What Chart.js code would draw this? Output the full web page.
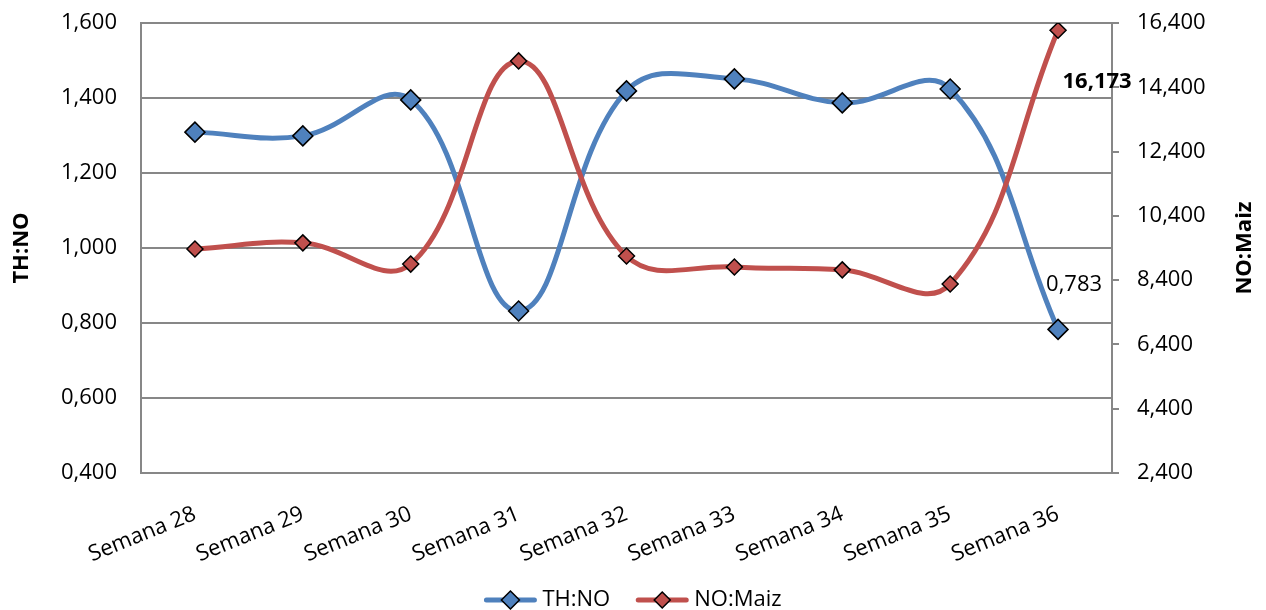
<!DOCTYPE html>
<html>
<head>
<meta charset="utf-8">
<script src="https://cdn.jsdelivr.net/npm/chart.js@4.4.1/dist/chart.umd.min.js"></script>
<style>
  html, body { margin: 0; padding: 0; background: #fff; }
  #wrap { width: 1266px; height: 610px; }
</style>
</head>
<body>
<div id="wrap"><canvas id="c" width="1266" height="610"></canvas></div>
<script>
// data
const weeks = ['Semana 28', 'Semana 29', 'Semana 30', 'Semana 31', 'Semana 32', 'Semana 33', 'Semana 34', 'Semana 35', 'Semana 36'];
const thNo = [1.309, 1.299, 1.395, 0.832, 1.419, 1.451, 1.387, 1.424, 0.783];
const noMaiz = [9.37, 9.56, 8.90, 15.22, 9.15, 8.81, 8.72, 8.28, 16.173];

const blue = '#4F81BD';
const red = '#C0504D';
const grid = '#878787';
const FONT = 'Open Sans';

function fmt(v) { return v.toFixed(3).replace('.', ','); }

// labels on the last points + right title + legend
const extras = {
  id: 'extras',
  afterDraw(chart) {
    const ctx = chart.ctx;
    const m0 = chart.getDatasetMeta(0).data;
    const m1 = chart.getDatasetMeta(1).data;
    ctx.save();
    ctx.fillStyle = '#000';
    ctx.textAlign = 'center';
    ctx.textBaseline = 'middle';
    let p = m0[m0.length - 1];
    ctx.font = '22px "' + FONT + '"';
    ctx.fillText(fmt(thNo[thNo.length - 1]), p.x + 16, p.y - 45);
    p = m1[m1.length - 1];
    ctx.font = 'bold 22px "' + FONT + '"';
    ctx.fillText(fmt(noMaiz[noMaiz.length - 1]), p.x + 39, p.y + 51);

    // right axis title, reading bottom to top
    const a = chart.chartArea;
    ctx.translate(1245, (a.top + a.bottom) / 2);
    ctx.rotate(-Math.PI / 2);
    ctx.fillText('NO:Maiz', 0, 0);
    ctx.restore();

    // legend
    ctx.save();
    ctx.font = '22px "' + FONT + '"';
    ctx.textBaseline = 'middle';
    const items = [{ t: 'TH:NO', c: blue, r: 9 }, { t: 'NO:Maiz', c: red, r: 8 }];
    const lineW = 52, gap = 6, sep = 26;
    let total = 0;
    items.forEach((it, i) => { total += lineW + gap + ctx.measureText(it.t).width + (i ? sep : 0); });
    let x = chart.width / 2 - total / 2;
    const y = 600;
    items.forEach((it, i) => {
      if (i) x += sep;
      ctx.strokeStyle = it.c;
      ctx.lineWidth = 5;
      ctx.lineCap = 'round';
      ctx.beginPath(); ctx.moveTo(x + 2, y); ctx.lineTo(x + lineW - 2, y); ctx.stroke();
      const cx = x + lineW / 2;
      ctx.beginPath();
      ctx.moveTo(cx, y - it.r); ctx.lineTo(cx + it.r, y); ctx.lineTo(cx, y + it.r); ctx.lineTo(cx - it.r, y); ctx.closePath();
      ctx.fillStyle = it.c; ctx.fill();
      ctx.lineWidth = 1.5; ctx.strokeStyle = '#000'; ctx.stroke();
      x += lineW + gap;
      ctx.fillStyle = '#000';
      ctx.fillText(it.t, x, y);
      x += ctx.measureText(it.t).width;
    });
    ctx.restore();
  }
};

function noPad(s) { s.paddingTop = 0; s.paddingBottom = 0; }

new Chart(document.getElementById('c'), {
  type: 'line',
  data: {
    labels: weeks,
    datasets: [
      {
        label: 'TH:NO', data: thNo, yAxisID: 'y', order: 2,
        borderColor: blue, backgroundColor: blue, borderWidth: 5,
        pointStyle: 'rectRot', pointRadius: 10, pointBorderColor: '#000', pointBorderWidth: 1.5,
        pointBackgroundColor: blue, tension: 0.4, fill: false
      },
      {
        label: 'NO:Maiz', data: noMaiz, yAxisID: 'y1', order: 1,
        borderColor: red, backgroundColor: red, borderWidth: 5,
        pointStyle: 'rectRot', pointRadius: 8, pointBorderColor: '#000', pointBorderWidth: 1.5,
        pointBackgroundColor: red, tension: 0.4, fill: false
      }
    ]
  },
  options: {
    responsive: false,
    animation: false,
    devicePixelRatio: 1,
    layout: { padding: { top: 23, left: 0, right: 0, bottom: 40 } },
    plugins: { legend: { display: false }, tooltip: { enabled: false } },
    scales: {
      x: {
        offset: true,
        grid: { display: false, drawTicks: false },
        border: { color: grid, width: 2 },
        ticks: { color: '#000', font: { family: FONT, size: 22 }, minRotation: 22, maxRotation: 22, padding: 28, autoSkip: false },
        afterFit(s) { s.height = 97; s.paddingLeft = 0; s.paddingRight = 0; }
      },
      y: {
        position: 'left', min: 0.4, max: 1.6,
        grid: { color: grid, lineWidth: 2, drawTicks: false },
        border: { color: grid, width: 2 },
        ticks: { stepSize: 0.2, color: '#000', font: { family: FONT, size: 22 }, padding: 24, callback: v => fmt(v) },
        title: { display: true, text: 'TH:NO', color: '#000', font: { family: FONT, size: 22, weight: 'bold' }, padding: { top: 9, bottom: 0 } },
        afterFit(s) { s.width = 141; noPad(s); }
      },
      y1: {
        position: 'right', min: 2.4, max: 16.4,
        grid: { drawOnChartArea: false, color: grid, lineWidth: 2, tickLength: 7 },
        border: { color: grid, width: 2 },
        ticks: { stepSize: 2, color: '#000', font: { family: FONT, size: 22 }, padding: 18, callback: v => fmt(v) },
        afterFit(s) { s.width = 154; noPad(s); }
      }
    }
  },
  plugins: [extras]
});
</script>
</body>
</html>
